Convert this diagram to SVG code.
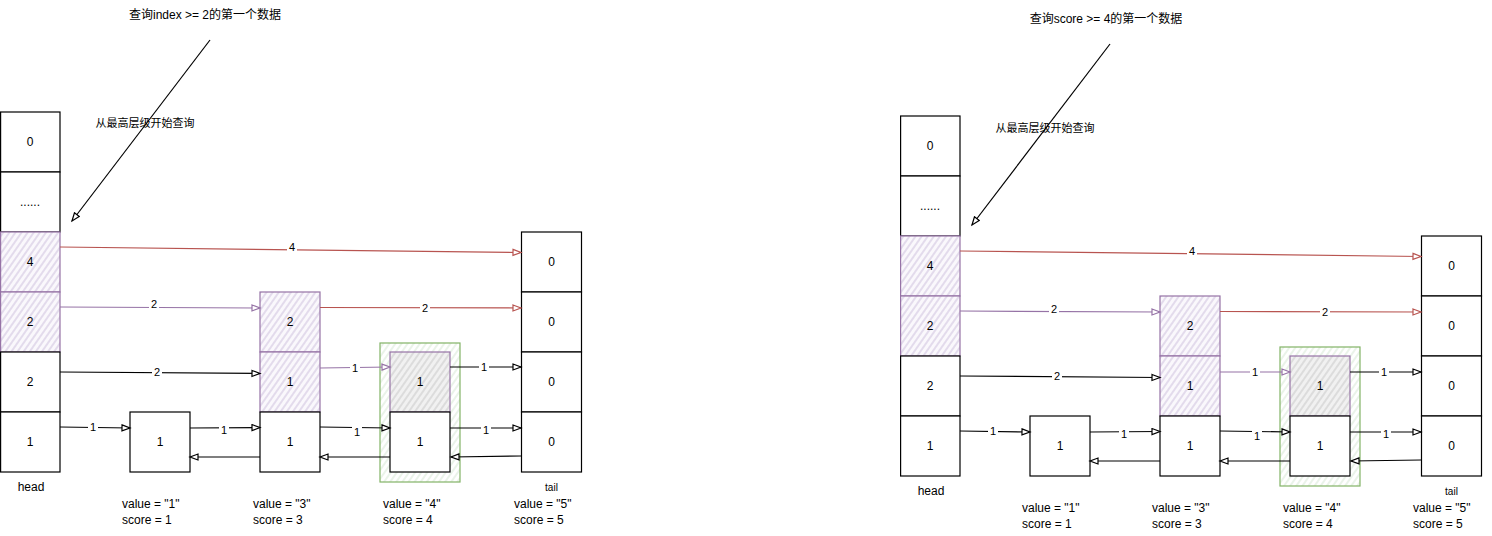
<svg xmlns="http://www.w3.org/2000/svg" width="1492" height="536" viewBox="0 0 1492 536">
<defs>
<style>
.box{stroke:#000;stroke-width:1.2;fill:#fff}
.pbox{stroke:#9673a6;stroke-width:1.2;fill:url(#hPurple)}
.gbox{stroke:#9673a6;stroke-width:1.2;fill:url(#hGray)}
.green{stroke:#82b366;stroke-width:1.2;fill:url(#hGreen)}
.t{font-family:"Liberation Sans","Noto Sans CJK SC",Arial,sans-serif;font-size:12px;fill:#000;text-anchor:middle;dominant-baseline:central}
.tc{font-family:"Liberation Sans","Noto Sans CJK SC",Arial,sans-serif;font-size:11px;fill:#000;text-anchor:middle;dominant-baseline:central}
.tl{font-family:"Liberation Sans","Noto Sans CJK SC",Arial,sans-serif;font-size:12px;fill:#000;text-anchor:start;dominant-baseline:central}
.tail{font-family:"Liberation Sans",Arial,sans-serif;font-size:10px;fill:#000;text-anchor:middle;dominant-baseline:central}
.cl{font-family:"Liberation Sans",Arial,sans-serif;font-size:11px;fill:#000;text-anchor:middle;dominant-baseline:central}
.lb{fill:#fff}
.ck{stroke:#000;stroke-width:1.2;fill:none;marker-end:url(#aK)}
.cr{stroke:#b85450;stroke-width:1.2;fill:none;marker-end:url(#aR)}
.cp{stroke:#9673a6;stroke-width:1.2;fill:none;marker-end:url(#aP)}
</style>
<pattern id="hPurple" patternUnits="userSpaceOnUse" width="5" height="5" patternTransform="rotate(35)"><rect width="5" height="5" fill="#faf8fc"/><line x1="1" y1="0" x2="1" y2="5" stroke="#cdbfdc" stroke-width="1"/></pattern>
<pattern id="hGray" patternUnits="userSpaceOnUse" width="5" height="5" patternTransform="rotate(35)"><rect width="5" height="5" fill="#f1f1f1"/><line x1="1" y1="0" x2="1" y2="5" stroke="#c8c8c8" stroke-width="1"/></pattern>
<pattern id="hGreen" patternUnits="userSpaceOnUse" width="5" height="5" patternTransform="rotate(35)"><rect width="5" height="5" fill="#fff"/><line x1="1" y1="0" x2="1" y2="5" stroke="#d5e8d4" stroke-width="1"/></pattern>
<marker id="aK" markerUnits="userSpaceOnUse" markerWidth="12" markerHeight="10" refX="9" refY="4" orient="auto"><path d="M1,1 L9,4 L1,7 Z" fill="#fff" stroke="#000" stroke-width="1.2"/></marker>
<marker id="aR" markerUnits="userSpaceOnUse" markerWidth="12" markerHeight="10" refX="9" refY="4" orient="auto"><path d="M1,1 L9,4 L1,7 Z" fill="#fff" stroke="#b85450" stroke-width="1.2"/></marker>
<marker id="aP" markerUnits="userSpaceOnUse" markerWidth="12" markerHeight="10" refX="9" refY="4" orient="auto"><path d="M1,1 L9,4 L1,7 Z" fill="#fff" stroke="#9673a6" stroke-width="1.2"/></marker>
</defs>
<rect width="1492" height="536" fill="#fff"/>

<!-- LEFT DIAGRAM -->
<g id="left">
  <g id="L-query">
    <text class="t" x="205" y="15">查询index &gt;= 2的第一个数据</text>
  </g>
  <g id="L-head">
    <rect class="box" x="0.6" y="112" width="59.4" height="60"/><text class="t" x="30" y="142">0</text>
    <rect class="box" x="0.6" y="172" width="59.4" height="60"/><text class="t" x="30" y="202">......</text>
    <rect class="pbox" x="0.6" y="232" width="59.4" height="60"/><text class="t" x="30" y="262">4</text>
    <rect class="pbox" x="0.6" y="292" width="59.4" height="60"/><text class="t" x="30" y="322">2</text>
    <rect class="box" x="0.6" y="352" width="59.4" height="60"/><text class="t" x="30" y="382">2</text>
    <rect class="box" x="0.6" y="412" width="59.4" height="60"/><text class="t" x="30" y="442">1</text>
    <text class="t" x="31" y="487">head</text>
  </g>
  <g id="L-node1">
    <rect class="box" x="130" y="412" width="60" height="60"/><text class="t" x="160" y="442">1</text>
    <text class="tl" x="122" y="504">value = "1"</text>
    <text class="tl" x="122" y="520">score = 1</text>
  </g>
  <g id="L-node3">
    <rect class="pbox" x="260" y="292" width="60" height="60"/><text class="t" x="290" y="322">2</text>
    <rect class="pbox" x="260" y="352" width="60" height="60"/><text class="t" x="290" y="382">1</text>
    <rect class="box" x="260" y="412" width="60" height="60"/><text class="t" x="290" y="442">1</text>
    <text class="tl" x="253" y="504">value = "3"</text>
    <text class="tl" x="253" y="520">score = 3</text>
  </g>
  <g id="L-node4">
    <rect class="green" x="380" y="343" width="80" height="139"/>
    <rect class="gbox" x="390" y="352" width="60" height="60"/><text class="t" x="420" y="382">1</text>
    <rect class="box" x="390" y="412" width="60" height="60"/><text class="t" x="420" y="442">1</text>
    <text class="tl" x="383" y="504">value = "4"</text>
    <text class="tl" x="383" y="520">score = 4</text>
  </g>
  <g id="L-tail">
    <rect class="box" x="521.5" y="232" width="60" height="60"/><text class="t" x="551.5" y="262">0</text>
    <rect class="box" x="521.5" y="292" width="60" height="60"/><text class="t" x="551.5" y="322">0</text>
    <rect class="box" x="521.5" y="352" width="60" height="60"/><text class="t" x="551.5" y="382">0</text>
    <rect class="box" x="521.5" y="412" width="60" height="60"/><text class="t" x="551.5" y="442">0</text>
    <text class="tail" x="551.5" y="487">tail</text>
    <text class="tl" x="514" y="504">value = "5"</text>
    <text class="tl" x="514" y="520">score = 5</text>
  </g>
  <g id="L-connectors">
    <path class="ck" d="M210,40 L72,221"/>
    <text class="tc" x="145" y="123">从最高层级开始查询</text>
    <path class="cr" d="M60,247 L521,252.5"/>
    <rect class="lb" x="287" y="241" width="10" height="12"/><text class="cl" x="292" y="247">4</text>
    <path class="cp" d="M60,307 L260,308"/>
    <rect class="lb" x="149" y="298" width="10" height="12"/><text class="cl" x="154" y="304">2</text>
    <path class="cr" d="M320,307.5 L521,308"/>
    <rect class="lb" x="420" y="302" width="10" height="12"/><text class="cl" x="425" y="308">2</text>
    <path class="ck" d="M60,372 L260,373.5"/>
    <rect class="lb" x="152" y="366" width="10" height="12"/><text class="cl" x="157" y="372">2</text>
    <path class="cp" d="M320,368 L390,367"/>
    <rect class="lb" x="350" y="362" width="10" height="12"/><text class="cl" x="355" y="368">1</text>
    <path class="ck" d="M450,367 L521,367"/>
    <rect class="lb" x="479" y="361" width="10" height="12"/><text class="cl" x="484" y="367">1</text>
    <path class="ck" d="M60,427 L130,428"/>
    <rect class="lb" x="88" y="421" width="10" height="12"/><text class="cl" x="93" y="427">1</text>
    <path class="ck" d="M190,428 L260,427.5"/>
    <rect class="lb" x="219" y="424" width="10" height="12"/><text class="cl" x="224" y="430">1</text>
    <path class="ck" d="M320,427 L390,428"/>
    <rect class="lb" x="352" y="426" width="10" height="12"/><text class="cl" x="357" y="432">1</text>
    <path class="ck" d="M450,428 L521,428"/>
    <rect class="lb" x="481" y="424" width="10" height="12"/><text class="cl" x="486" y="430">1</text>
    <path class="ck" d="M260,457 L190,457"/>
    <path class="ck" d="M390,457 L320,457"/>
    <path class="ck" d="M521,456 L451,457"/>
  </g>
</g>

<!-- RIGHT DIAGRAM -->
<g id="right" transform="translate(900,4)">
  <g id="R-query">
    <text class="t" x="206" y="15">查询score &gt;= 4的第一个数据</text>
  </g>
  <g id="R-head">
    <rect class="box" x="0.6" y="112" width="59.4" height="60"/><text class="t" x="30" y="142">0</text>
    <rect class="box" x="0.6" y="172" width="59.4" height="60"/><text class="t" x="30" y="202">......</text>
    <rect class="pbox" x="0.6" y="232" width="59.4" height="60"/><text class="t" x="30" y="262">4</text>
    <rect class="pbox" x="0.6" y="292" width="59.4" height="60"/><text class="t" x="30" y="322">2</text>
    <rect class="box" x="0.6" y="352" width="59.4" height="60"/><text class="t" x="30" y="382">2</text>
    <rect class="box" x="0.6" y="412" width="59.4" height="60"/><text class="t" x="30" y="442">1</text>
    <text class="t" x="31" y="487">head</text>
  </g>
  <g id="R-node1">
    <rect class="box" x="130" y="412" width="60" height="60"/><text class="t" x="160" y="442">1</text>
    <text class="tl" x="122" y="504">value = "1"</text>
    <text class="tl" x="122" y="520">score = 1</text>
  </g>
  <g id="R-node3">
    <rect class="pbox" x="260" y="292" width="60" height="60"/><text class="t" x="290" y="322">2</text>
    <rect class="pbox" x="260" y="352" width="60" height="60"/><text class="t" x="290" y="382">1</text>
    <rect class="box" x="260" y="412" width="60" height="60"/><text class="t" x="290" y="442">1</text>
    <text class="tl" x="252" y="504">value = "3"</text>
    <text class="tl" x="252" y="520">score = 3</text>
  </g>
  <g id="R-node4">
    <rect class="green" x="380" y="343" width="80" height="139"/>
    <rect class="gbox" x="390" y="352" width="60" height="60"/><text class="t" x="420" y="382">1</text>
    <rect class="box" x="390" y="412" width="60" height="60"/><text class="t" x="420" y="442">1</text>
    <text class="tl" x="383" y="504">value = "4"</text>
    <text class="tl" x="383" y="520">score = 4</text>
  </g>
  <g id="R-tail">
    <rect class="box" x="521.5" y="232" width="60" height="60"/><text class="t" x="551.5" y="262">0</text>
    <rect class="box" x="521.5" y="292" width="60" height="60"/><text class="t" x="551.5" y="322">0</text>
    <rect class="box" x="521.5" y="352" width="60" height="60"/><text class="t" x="551.5" y="382">0</text>
    <rect class="box" x="521.5" y="412" width="60" height="60"/><text class="t" x="551.5" y="442">0</text>
    <text class="tail" x="551.5" y="487">tail</text>
    <text class="tl" x="513" y="504">value = "5"</text>
    <text class="tl" x="513" y="520">score = 5</text>
  </g>
  <g id="R-connectors">
    <path class="ck" d="M210,40 L72,221"/>
    <text class="tc" x="145" y="124">从最高层级开始查询</text>
    <path class="cr" d="M60,247 L521,252.5"/>
    <rect class="lb" x="287" y="241" width="10" height="12"/><text class="cl" x="292" y="247">4</text>
    <path class="cp" d="M60,307 L260,308"/>
    <rect class="lb" x="149" y="299" width="10" height="12"/><text class="cl" x="154" y="305">2</text>
    <path class="cr" d="M320,307.5 L521,308"/>
    <rect class="lb" x="420" y="302" width="10" height="12"/><text class="cl" x="425" y="308">2</text>
    <path class="ck" d="M60,372 L260,373.5"/>
    <rect class="lb" x="152" y="366" width="10" height="12"/><text class="cl" x="157" y="372">2</text>
    <path class="cp" d="M320,368 L390,368"/>
    <rect class="lb" x="350" y="362" width="10" height="12"/><text class="cl" x="355" y="368">1</text>
    <path class="ck" d="M450,368 L521,368"/>
    <rect class="lb" x="479" y="362" width="10" height="12"/><text class="cl" x="484" y="368">1</text>
    <path class="ck" d="M60,427 L130,428"/>
    <rect class="lb" x="88" y="421" width="10" height="12"/><text class="cl" x="93" y="427">1</text>
    <path class="ck" d="M190,428 L260,427.5"/>
    <rect class="lb" x="219" y="424" width="10" height="12"/><text class="cl" x="224" y="430">1</text>
    <path class="ck" d="M320,427 L390,428"/>
    <rect class="lb" x="352" y="426" width="10" height="12"/><text class="cl" x="357" y="432">1</text>
    <path class="ck" d="M450,428 L521,428"/>
    <rect class="lb" x="481" y="424" width="10" height="12"/><text class="cl" x="486" y="430">1</text>
    <path class="ck" d="M260,457 L190,457"/>
    <path class="ck" d="M390,457 L320,457"/>
    <path class="ck" d="M521,456 L451,457"/>
  </g>
</g>
</svg>
